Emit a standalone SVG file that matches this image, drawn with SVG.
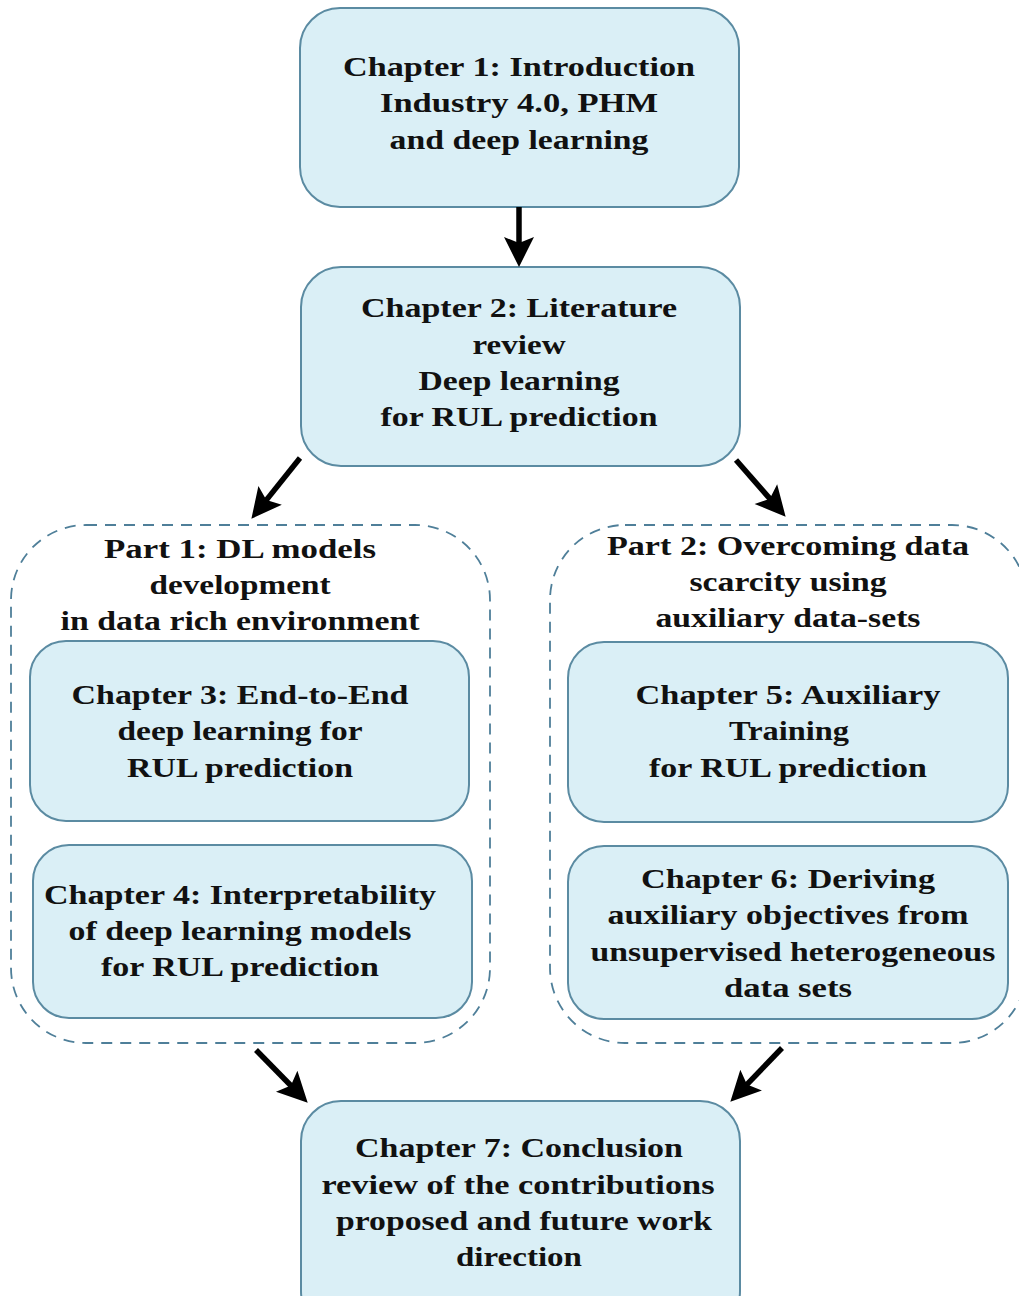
<svg xmlns="http://www.w3.org/2000/svg" width="1019" height="1296" viewBox="0 0 1019 1296">
  <style>
    .box { fill: #DAEFF6; stroke: #5B8BA2; stroke-width: 2; }
    .part { fill: none; stroke: #4F7F99; stroke-width: 1.8; stroke-dasharray: 11 8; }
    .lbl { font-family: "Liberation Serif", "Times New Roman", serif; font-weight: bold; font-size: 28px; fill: #111; text-anchor: middle; }
    .arrow { stroke: #000; stroke-width: 5.5; fill: none; marker-end: url(#head); }
  </style>
  <defs>
    <marker id="head" markerUnits="userSpaceOnUse" markerWidth="40" markerHeight="40" refX="0" refY="0" orient="auto" overflow="visible">
      <path d="M21,0 L-9,-15 L-3,0 L-9,15 Z" fill="#000"/>
    </marker>
  </defs>

  <!-- part containers -->
  <g id="part1">
    <rect class="part" x="11" y="525" width="479" height="518" rx="75"/>
    <text class="lbl" x="240" y="558" textLength="272" lengthAdjust="spacingAndGlyphs">Part 1: DL models</text>
    <text class="lbl" x="240" y="594" textLength="181" lengthAdjust="spacingAndGlyphs">development</text>
    <text class="lbl" x="240" y="630" textLength="359" lengthAdjust="spacingAndGlyphs">in data rich environment</text>
  </g>
  <g id="part2">
    <rect class="part" x="550" y="525" width="477" height="518" rx="75"/>
    <text class="lbl" x="788" y="555" textLength="362" lengthAdjust="spacingAndGlyphs">Part 2: Overcoming data</text>
    <text class="lbl" x="788" y="591" textLength="197" lengthAdjust="spacingAndGlyphs">scarcity using</text>
    <text class="lbl" x="788" y="627" textLength="265" lengthAdjust="spacingAndGlyphs">auxiliary data-sets</text>
  </g>

  <g id="ch1">
    <rect class="box" x="300" y="8" width="439" height="199" rx="40"/>
    <text class="lbl" x="519" y="76" textLength="352" lengthAdjust="spacingAndGlyphs">Chapter 1: Introduction</text>
    <text class="lbl" x="519" y="112" textLength="278" lengthAdjust="spacingAndGlyphs">Industry 4.0, PHM</text>
    <text class="lbl" x="519" y="149" textLength="259" lengthAdjust="spacingAndGlyphs">and deep learning</text>
  </g>

  <g id="ch2">
    <rect class="box" x="301" y="267" width="439" height="199" rx="40"/>
    <text class="lbl" x="519" y="317" textLength="316" lengthAdjust="spacingAndGlyphs">Chapter 2: Literature</text>
    <text class="lbl" x="519" y="354" textLength="93" lengthAdjust="spacingAndGlyphs">review</text>
    <text class="lbl" x="519" y="390" textLength="201" lengthAdjust="spacingAndGlyphs">Deep learning</text>
    <text class="lbl" x="519" y="426" textLength="277" lengthAdjust="spacingAndGlyphs">for RUL prediction</text>
  </g>

  <g id="ch3">
    <rect class="box" x="30" y="641" width="439" height="180" rx="36"/>
    <text class="lbl" x="240" y="704" textLength="337" lengthAdjust="spacingAndGlyphs">Chapter 3: End-to-End</text>
    <text class="lbl" x="240" y="740" textLength="245" lengthAdjust="spacingAndGlyphs">deep learning for</text>
    <text class="lbl" x="240" y="777" textLength="226" lengthAdjust="spacingAndGlyphs">RUL prediction</text>
  </g>

  <g id="ch4">
    <rect class="box" x="33" y="845" width="439" height="173" rx="36"/>
    <text class="lbl" x="240" y="904" textLength="392" lengthAdjust="spacingAndGlyphs">Chapter 4: Interpretability</text>
    <text class="lbl" x="240" y="940" textLength="343" lengthAdjust="spacingAndGlyphs">of deep learning models</text>
    <text class="lbl" x="240" y="976" textLength="278" lengthAdjust="spacingAndGlyphs">for RUL prediction</text>
  </g>

  <g id="ch5">
    <rect class="box" x="568" y="642" width="440" height="180" rx="36"/>
    <text class="lbl" x="788" y="704" textLength="305" lengthAdjust="spacingAndGlyphs">Chapter 5: Auxiliary</text>
    <text class="lbl" x="789" y="740" textLength="120" lengthAdjust="spacingAndGlyphs">Training</text>
    <text class="lbl" x="788" y="777" textLength="278" lengthAdjust="spacingAndGlyphs">for RUL prediction</text>
  </g>

  <g id="ch6">
    <rect class="box" x="568" y="846" width="440" height="173" rx="36"/>
    <text class="lbl" x="788" y="888" textLength="294" lengthAdjust="spacingAndGlyphs">Chapter 6: Deriving</text>
    <text class="lbl" x="788" y="924" textLength="361" lengthAdjust="spacingAndGlyphs">auxiliary objectives from</text>
    <text class="lbl" x="793" y="961" textLength="405" lengthAdjust="spacingAndGlyphs">unsupervised heterogeneous</text>
    <text class="lbl" x="788" y="997" textLength="128" lengthAdjust="spacingAndGlyphs">data sets</text>
  </g>

  <g id="ch7">
    <rect class="box" x="301" y="1101" width="439" height="230" rx="40"/>
    <text class="lbl" x="519" y="1157" textLength="328" lengthAdjust="spacingAndGlyphs">Chapter 7: Conclusion</text>
    <text class="lbl" x="518" y="1194" textLength="393" lengthAdjust="spacingAndGlyphs">review of the contributions</text>
    <text class="lbl" x="524" y="1230" textLength="376" lengthAdjust="spacingAndGlyphs">proposed and future work</text>
    <text class="lbl" x="519" y="1266" textLength="126" lengthAdjust="spacingAndGlyphs">direction</text>
  </g>

  <!-- connectors -->
  <g id="connectors">
    <line class="arrow" x1="519" y1="207" x2="519" y2="246"/>
    <line class="arrow" x1="300" y1="458" x2="264.5" y2="502.4"/>
    <line class="arrow" x1="736" y1="460" x2="771.8" y2="500.9"/>
    <line class="arrow" x1="256" y1="1050" x2="293" y2="1087.7"/>
    <line class="arrow" x1="782" y1="1048" x2="744.9" y2="1086.6"/>
  </g>
</svg>
